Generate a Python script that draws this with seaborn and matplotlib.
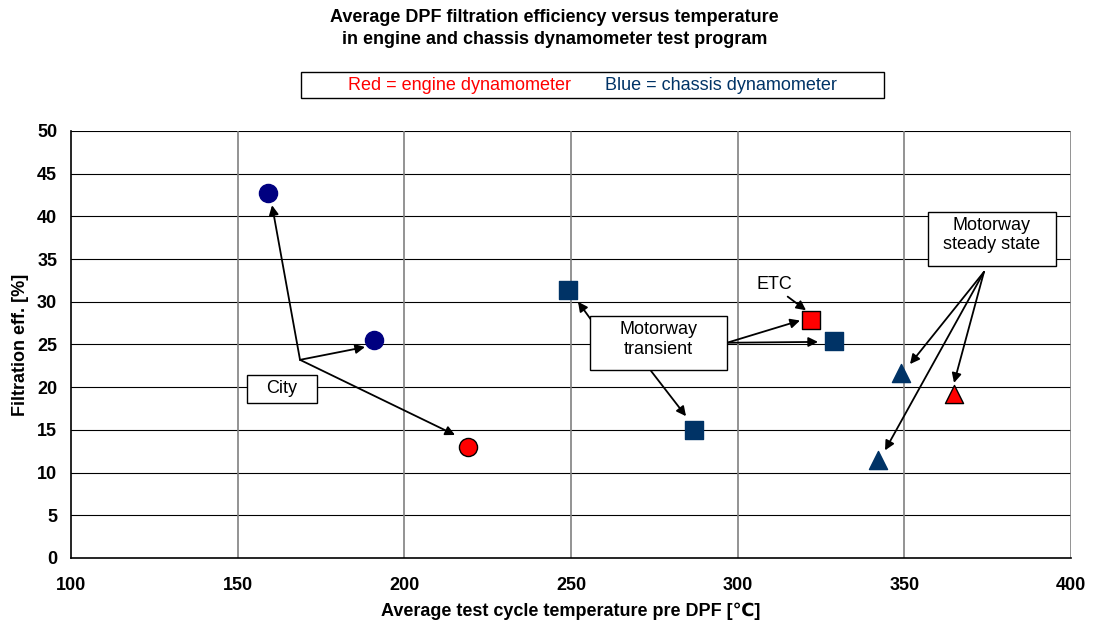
import seaborn as sns
import matplotlib.pyplot as plt
import pandas as pd

# data
temps = [159, 191, 219, 249, 287, 322, 329, 349, 342, 365]
effs = [42.7, 25.5, 13.0, 31.4, 15.0, 27.9, 25.4, 21.7, 11.5, 19.2]
rig = ['chassis', 'chassis', 'engine', 'chassis', 'chassis', 'engine', 'chassis', 'chassis', 'chassis', 'engine']
cycle = ['City', 'City', 'City', 'Motorway transient', 'Motorway transient', 'ETC',
         'Motorway transient', 'Motorway steady', 'Motorway steady', 'Motorway steady']

df = pd.DataFrame({'temp': temps, 'eff': effs, 'rig': rig, 'cycle': cycle})

markers = {'City': 'o', 'Motorway transient': 's', 'ETC': 's', 'Motorway steady': '^'}
sizes = {'o': 170, 's': 150, '^': 170}

sns.set_style('white')
plt.rcParams['font.family'] = ['Liberation Sans', 'DejaVu Sans']
plt.rcParams['text.color'] = 'black'
plt.rcParams['axes.labelcolor'] = 'black'
plt.rcParams['xtick.color'] = 'black'
plt.rcParams['ytick.color'] = 'black'

FS = 13

fig = plt.figure(figsize=(10.96, 6.28), dpi=100)
ax = fig.add_axes([0.0648, 0.1115, 0.9124, 0.68])

for (cyc, r), g in df.groupby(['cycle', 'rig']):
    m = markers[cyc]
    if r == 'engine':
        col, edge = '#FF0000', 'black'
    else:
        col = '#000080' if m == 'o' else '#003366'
        edge = col
    sns.scatterplot(data=g, x='temp', y='eff', marker=m, s=sizes[m], color=col,
                    edgecolor=edge, linewidth=1, ax=ax, zorder=5, legend=False)

ax.set_xlim(100, 400)
ax.set_ylim(0, 50)
ax.set_xticks(range(100, 401, 50))
ax.set_yticks(range(0, 51, 5))
for y in range(5, 51, 5):
    ax.axhline(y, color='black', lw=0.8, zorder=1)
for x in range(150, 401, 50):
    ax.axvline(x, color='#808080', lw=1.2, zorder=1)
for s in ['top', 'right']:
    ax.spines[s].set_visible(False)
for s in ['left', 'bottom']:
    ax.spines[s].set_color('black')
    ax.spines[s].set_linewidth(1.2)
ax.tick_params(axis='both', direction='out', length=5, width=1, color='black',
               labelsize=FS)
ax.tick_params(axis='x', pad=9)
ax.tick_params(axis='y', pad=5)
for lab in ax.get_xticklabels() + ax.get_yticklabels():
    lab.set_fontweight('bold')
ax.set_xlabel('Average test cycle temperature pre DPF [\u2103]', fontsize=FS,
              fontweight='bold', labelpad=6)
ax.set_ylabel('Filtration eff. [%]', fontsize=FS, fontweight='bold', labelpad=6)

arrow = dict(arrowstyle='-|>', color='black', lw=1.3, mutation_scale=14, shrinkA=0, shrinkB=0)

def arrows(start, ends):
    for e in ends:
        ax.annotate('', xy=e, xytext=start, arrowprops=arrow, zorder=6)

def label_box(x0, x1, y0, y1, text, tx, ty):
    ax.add_patch(plt.Rectangle((x0, y0), x1 - x0, y1 - y0, fc='white', ec='black',
                               lw=1, zorder=7))
    ax.text(tx, ty, text, ha='center', va='center', fontsize=FS, linespacing=1.2, zorder=8)

# City
arrows((168.7, 23.2), [(160.3, 41.3), (188.2, 24.7), (215.2, 14.4)])
label_box(152.8, 173.8, 18.15, 21.4, 'City', 163.3, 19.8)

# Motorway transient
arrows((256, 27.9), [(252.1, 30.0)])
arrows((274, 21.9), [(284.5, 16.6)])
arrows((296.8, 25.2), [(318.7, 27.8), (324.1, 25.3)])
label_box(255.7, 296.8, 22.0, 28.35, 'Motorway\ntransient', 276.1, 25.6)

# ETC
ax.text(311, 32, 'ETC', ha='center', va='center', fontsize=FS, zorder=7)
arrows((315, 30.6), [(320.5, 29.0)])

# Motorway steady state
arrows((373.9, 33.5), [(351.7, 22.7), (344.2, 12.6), (364.9, 20.5)])
label_box(357.1, 395.5, 34.2, 40.5, 'Motorway\nsteady state', 376.2, 37.8)

fig.text(0.506, 0.9546, 'Average DPF filtration efficiency versus temperature\n'
         'in engine and chassis dynamometer test program', ha='center', va='center',
         fontsize=FS, fontweight='bold', linespacing=1.45)

# colour key box
fig.patches.append(plt.Rectangle((301 / 1096, 1 - 98 / 628), 583 / 1096, 26 / 628,
                                 transform=fig.transFigure, fc='white', ec='black', lw=1))
fig.text(460 / 1096, 1 - 85 / 628, 'Red = engine dynamometer', color='#FF0000',
         ha='center', va='center', fontsize=FS)
fig.text(721 / 1096, 1 - 85 / 628, 'Blue = chassis dynamometer', color='#003366',
         ha='center', va='center', fontsize=FS)

fig.savefig('out.png', dpi=100)
